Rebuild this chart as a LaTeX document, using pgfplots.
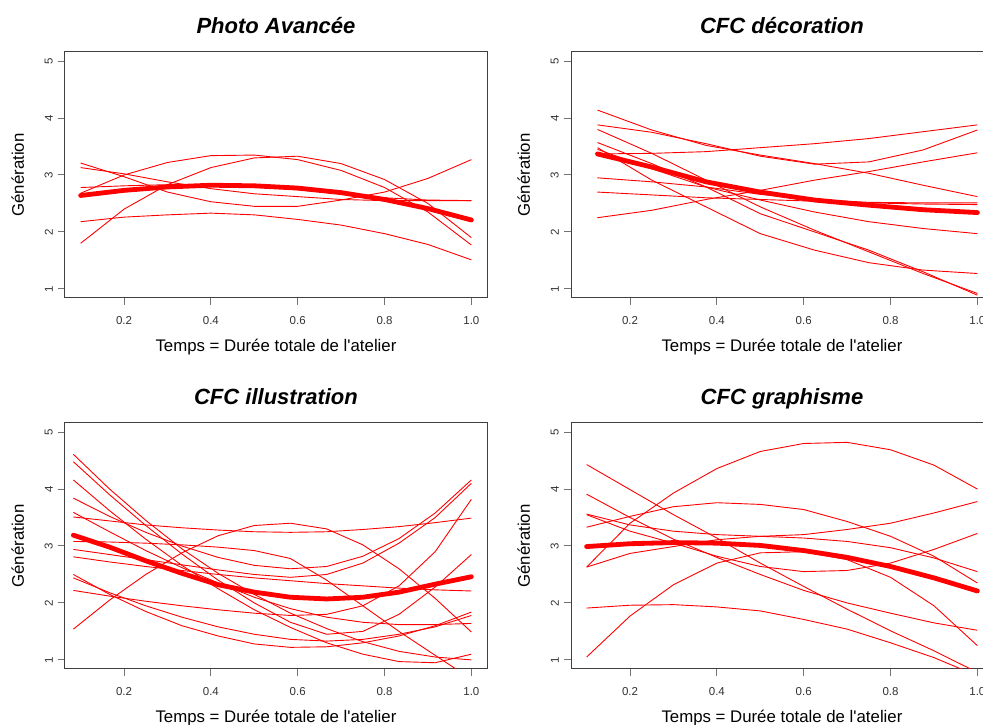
\documentclass[border=0pt]{standalone}
\usepackage{fontspec}
\setmainfont{Liberation Sans}[Ligatures=TeXOff]
\usepackage{pgfplots}
\pgfplotsset{compat=1.18}

\pgfplotsset{
  panel/.style={
    scale only axis, width=422pt, height=246pt,
    xmin=0.064, xmax=1.036, ymin=0.84, ymax=5.16,
    xtick={0.2,0.4,0.6,0.8,1.0}, xticklabels={0.2,0.4,0.6,0.8,1.0},
    ytick={1,2,3,4,5}, yticklabels={1,2,3,4,5},
    tick pos=left, tick align=outside, major tick length=7pt,
    tick style={black!55, line width=1pt},
    axis line style={black!75, line width=1pt},
    ticklabel style={font=\fontsize{11.5}{12}\selectfont, text=black!80},
    xticklabel style={anchor=base, inner sep=0pt, yshift=-20pt},
    yticklabel style={xshift=-5pt, rotate=90, anchor=south, inner sep=0pt},
    xlabel={Temps = Durée totale de l'atelier},
    ylabel={Génération},
    label style={font=\fontsize{16.8}{18}\selectfont},
    xlabel style={at={(axis description cs:0.5,-0.2195)}, anchor=base},
    ylabel style={at={(axis description cs:-0.0972,0.5)}, anchor=base},
    title style={at={(axis description cs:0.5,1.0528)}, anchor=base,
      font=\bfseries\itshape\fontsize{22}{24}\selectfont},
  },
  indiv/.style={red, line width=0.9pt},
  mean/.style={red, line width=4.8pt, line cap=round},
}

\begin{document}
\begin{tikzpicture}
\useasboundingbox (0,0) rectangle (983pt,725pt);

% ---- Photo Avancee
\begin{axis}[panel, at={(65pt,427pt)}, anchor=south west, title={Photo Avancée}]
\addplot[indiv] coordinates {(0.1,3.21)(0.2,2.97)(0.3,2.70)(0.4,2.53)(0.5,2.45)(0.6,2.45)(0.7,2.56)(0.8,2.70)(0.9,2.94)(1.0,3.27)};
\addplot[indiv] coordinates {(0.1,3.13)(0.2,3.02)(0.3,2.88)(0.4,2.76)(0.5,2.67)(0.6,2.62)(0.7,2.57)(0.8,2.55)(0.9,2.55)(1.0,2.55)};
\addplot[indiv] coordinates {(0.1,2.78)(0.2,2.81)(0.3,2.83)(0.4,2.83)(0.5,2.80)(0.6,2.74)(0.7,2.67)(0.8,2.60)(0.9,2.56)(1.0,2.55)};
\addplot[indiv] coordinates {(0.1,2.68)(0.2,3.00)(0.3,3.22)(0.4,3.34)(0.5,3.35)(0.6,3.27)(0.7,3.08)(0.8,2.78)(0.9,2.35)(1.0,1.77)};
\addplot[indiv] coordinates {(0.1,1.80)(0.2,2.40)(0.3,2.83)(0.4,3.13)(0.5,3.30)(0.6,3.33)(0.7,3.20)(0.8,2.92)(0.9,2.50)(1.0,1.90)};
\addplot[indiv] coordinates {(0.1,2.18)(0.2,2.26)(0.3,2.30)(0.4,2.33)(0.5,2.30)(0.6,2.22)(0.7,2.12)(0.8,1.97)(0.9,1.78)(1.0,1.51)};
\addplot[mean] coordinates {(0.1,2.64)(0.2,2.73)(0.3,2.79)(0.4,2.82)(0.5,2.81)(0.6,2.77)(0.7,2.69)(0.8,2.57)(0.9,2.41)(1.0,2.21)};
\end{axis}

% ---- CFC decoration
\begin{axis}[panel, at={(571pt,427pt)}, anchor=south west, title={CFC décoration}]
\addplot[indiv] coordinates {(0.125,4.14)(0.25,3.79)(0.375,3.52)(0.5,3.35)(0.625,3.20)(0.75,3.03)(0.875,2.82)(1.0,2.62)};
\addplot[indiv] coordinates {(0.125,3.88)(0.25,3.75)(0.375,3.55)(0.5,3.33)(0.625,3.19)(0.75,3.23)(0.875,3.44)(1.0,3.79)};
\addplot[indiv] coordinates {(0.125,3.37)(0.25,3.38)(0.375,3.41)(0.5,3.48)(0.625,3.55)(0.75,3.64)(0.875,3.76)(1.0,3.88)};
\addplot[indiv] coordinates {(0.125,3.80)(0.25,3.38)(0.375,2.91)(0.5,2.44)(0.625,2.03)(0.75,1.65)(0.875,1.27)(1.0,0.92)};
\addplot[indiv] coordinates {(0.125,3.57)(0.25,3.20)(0.375,2.79)(0.5,2.32)(0.625,2.00)(0.75,1.68)(0.875,1.30)(1.0,0.89)};
\addplot[indiv] coordinates {(0.125,3.48)(0.25,2.91)(0.375,2.44)(0.5,1.97)(0.625,1.68)(0.75,1.46)(0.875,1.33)(1.0,1.27)};
\addplot[indiv] coordinates {(0.125,3.45)(0.25,3.11)(0.375,2.79)(0.5,2.56)(0.625,2.35)(0.75,2.18)(0.875,2.06)(1.0,1.97)};
\addplot[indiv] coordinates {(0.125,2.95)(0.25,2.88)(0.375,2.79)(0.5,2.66)(0.625,2.57)(0.75,2.52)(0.875,2.51)(1.0,2.51)};
\addplot[indiv] coordinates {(0.125,2.70)(0.25,2.65)(0.375,2.60)(0.5,2.57)(0.625,2.54)(0.75,2.51)(0.875,2.49)(1.0,2.48)};
\addplot[indiv] coordinates {(0.125,2.25)(0.25,2.38)(0.375,2.57)(0.5,2.73)(0.625,2.91)(0.75,3.06)(0.875,3.23)(1.0,3.39)};
\addplot[mean] coordinates {(0.125,3.37)(0.25,3.14)(0.375,2.88)(0.5,2.70)(0.625,2.56)(0.75,2.47)(0.875,2.39)(1.0,2.34)};
\end{axis}

% ---- CFC illustration
\begin{axis}[panel, at={(65pt,56pt)}, anchor=south west, title={CFC illustration}]
\addplot[indiv] coordinates {(0.0833,1.54)(0.1667,2.05)(0.25,2.50)(0.3333,2.88)(0.4167,3.18)(0.5,3.36)(0.5833,3.40)(0.6667,3.30)(0.75,3.02)(0.8333,2.60)(0.9167,2.08)(1.0,1.49)};
\addplot[indiv] coordinates {(0.0833,3.51)(0.1667,3.44)(0.25,3.37)(0.3333,3.32)(0.4167,3.28)(0.5,3.25)(0.5833,3.24)(0.6667,3.25)(0.75,3.29)(0.8333,3.34)(0.9167,3.41)(1.0,3.49)};
\addplot[indiv] coordinates {(0.0833,3.84)(0.1667,3.52)(0.25,3.24)(0.3333,3.00)(0.4167,2.80)(0.5,2.66)(0.5833,2.60)(0.6667,2.64)(0.75,2.82)(0.8333,3.13)(0.9167,3.58)(1.0,4.16)};
\addplot[indiv] coordinates {(0.0833,3.08)(0.1667,3.07)(0.25,3.05)(0.3333,3.02)(0.4167,2.98)(0.5,2.92)(0.5833,2.78)(0.6667,2.40)(0.75,1.95)(0.8333,1.50)(0.9167,1.08)(1.0,0.66)};
\addplot[indiv] coordinates {(0.0833,2.94)(0.1667,2.85)(0.25,2.76)(0.3333,2.67)(0.4167,2.58)(0.5,2.50)(0.5833,2.45)(0.6667,2.50)(0.75,2.70)(0.8333,3.05)(0.9167,3.50)(1.0,4.10)};
\addplot[indiv] coordinates {(0.0833,2.22)(0.1667,2.12)(0.25,2.03)(0.3333,1.95)(0.4167,1.88)(0.5,1.82)(0.5833,1.78)(0.6667,1.80)(0.75,1.95)(0.8333,2.30)(0.9167,2.90)(1.0,3.82)};
\addplot[indiv] coordinates {(0.0833,4.48)(0.1667,3.90)(0.25,3.36)(0.3333,2.86)(0.4167,2.40)(0.5,2.00)(0.5833,1.66)(0.6667,1.45)(0.75,1.50)(0.8333,1.80)(0.9167,2.28)(1.0,2.85)};
\addplot[indiv] coordinates {(0.0833,4.16)(0.1667,3.62)(0.25,3.12)(0.3333,2.66)(0.4167,2.25)(0.5,1.88)(0.5833,1.57)(0.6667,1.30)(0.75,1.10)(0.8333,0.97)(0.9167,0.95)(1.0,1.10)};
\addplot[indiv] coordinates {(0.0833,3.59)(0.1667,3.25)(0.25,2.92)(0.3333,2.62)(0.4167,2.35)(0.5,2.10)(0.5833,1.90)(0.6667,1.75)(0.75,1.66)(0.8333,1.62)(0.9167,1.62)(1.0,1.64)};
\addplot[indiv] coordinates {(0.0833,2.50)(0.1667,2.15)(0.25,1.85)(0.3333,1.60)(0.4167,1.42)(0.5,1.28)(0.5833,1.22)(0.6667,1.23)(0.75,1.30)(0.8333,1.42)(0.9167,1.60)(1.0,1.84)};
\addplot[indiv] coordinates {(0.0833,2.44)(0.1667,2.18)(0.25,1.95)(0.3333,1.75)(0.4167,1.58)(0.5,1.45)(0.5833,1.36)(0.6667,1.33)(0.75,1.36)(0.8333,1.45)(0.9167,1.58)(1.0,1.78)};
\addplot[indiv] coordinates {(0.0833,2.81)(0.1667,2.72)(0.25,2.64)(0.3333,2.57)(0.4167,2.50)(0.5,2.44)(0.5833,2.39)(0.6667,2.34)(0.75,2.30)(0.8333,2.26)(0.9167,2.23)(1.0,2.21)};
\addplot[indiv] coordinates {(0.0833,4.61)(0.1667,4.00)(0.25,3.45)(0.3333,2.95)(0.4167,2.52)(0.5,2.15)(0.5833,1.82)(0.6667,1.55)(0.75,1.32)(0.8333,1.15)(0.9167,1.05)(1.0,1.00)};
\addplot[mean] coordinates {(0.0833,3.19)(0.1667,2.98)(0.25,2.74)(0.3333,2.52)(0.4167,2.32)(0.5,2.19)(0.5833,2.10)(0.6667,2.07)(0.75,2.10)(0.8333,2.19)(0.9167,2.33)(1.0,2.46)};
\end{axis}

% ---- CFC graphisme
\begin{axis}[panel, at={(571pt,56pt)}, anchor=south west, title={CFC graphisme}]
\addplot[indiv] coordinates {(0.1,2.63)(0.2,3.40)(0.3,3.93)(0.4,4.36)(0.5,4.66)(0.6,4.80)(0.7,4.82)(0.8,4.69)(0.9,4.42)(1.0,4.00)};
\addplot[indiv] coordinates {(0.1,2.63)(0.2,2.87)(0.3,2.99)(0.4,3.11)(0.5,3.17)(0.6,3.20)(0.7,3.29)(0.8,3.40)(0.9,3.58)(1.0,3.78)};
\addplot[indiv] coordinates {(0.1,4.43)(0.2,3.99)(0.3,3.55)(0.4,3.14)(0.5,2.70)(0.6,2.29)(0.7,1.89)(0.8,1.51)(0.9,1.16)(1.0,0.78)};
\addplot[indiv] coordinates {(0.1,3.91)(0.2,3.50)(0.3,3.12)(0.4,2.80)(0.5,2.50)(0.6,2.22)(0.7,2.00)(0.8,1.82)(0.9,1.65)(1.0,1.52)};
\addplot[indiv] coordinates {(0.1,3.56)(0.2,3.37)(0.3,3.26)(0.4,3.20)(0.5,3.17)(0.6,3.14)(0.7,3.08)(0.8,2.97)(0.9,2.79)(1.0,2.55)};
\addplot[indiv] coordinates {(0.1,3.33)(0.2,3.52)(0.3,3.69)(0.4,3.76)(0.5,3.73)(0.6,3.64)(0.7,3.43)(0.8,3.17)(0.9,2.82)(1.0,2.35)};
\addplot[indiv] coordinates {(0.1,1.05)(0.2,1.77)(0.3,2.32)(0.4,2.70)(0.5,2.88)(0.6,2.90)(0.7,2.76)(0.8,2.45)(0.9,1.95)(1.0,1.25)};
\addplot[indiv] coordinates {(0.1,1.91)(0.2,1.96)(0.3,1.97)(0.4,1.93)(0.5,1.86)(0.6,1.71)(0.7,1.54)(0.8,1.30)(0.9,1.04)(1.0,0.72)};
\addplot[indiv] coordinates {(0.1,3.55)(0.2,3.26)(0.3,3.05)(0.4,2.82)(0.5,2.64)(0.6,2.55)(0.7,2.57)(0.8,2.70)(0.9,2.94)(1.0,3.22)};
\addplot[mean] coordinates {(0.1,2.99)(0.2,3.04)(0.3,3.06)(0.4,3.05)(0.5,3.01)(0.6,2.92)(0.7,2.80)(0.8,2.64)(0.9,2.44)(1.0,2.21)};
\end{axis}
\end{tikzpicture}
\end{document}
